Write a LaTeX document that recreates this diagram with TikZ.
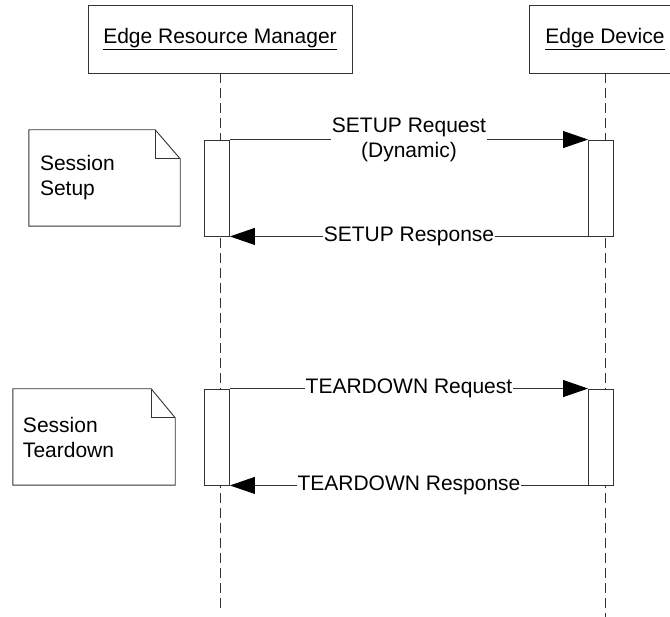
\documentclass[tikz,border=0pt]{standalone}
\usepackage{fontspec}
\setmainfont{Liberation Sans}
\usetikzlibrary{arrows.meta}
\tikzset{
  ln/.style={draw=black!80, line width=0.9pt},
  headbox/.style={ln, fill=white, minimum height=68pt, inner sep=0pt, font=\fontsize{21}{25}\selectfont},
  lifeline/.style={draw=black!80, line width=0.9pt, dash pattern=on 10pt off 5pt},
  actbox/.style={ln, fill=white, minimum width=25pt, inner sep=0pt},
  msg/.style={ln, -{Triangle[length=25pt,width=17pt,color=black]}},
  msglabel/.style={fill=white, inner sep=1pt, align=center, font=\fontsize{21}{25}\selectfont, text=black},
  notebox/.style={inner sep=0pt},
  notetext/.style={align=left, inner sep=0pt, font=\fontsize{21}{25}\selectfont}
}
\begin{document}
\begin{tikzpicture}[x=1pt,y=-1pt]
\clip (0,0) rectangle (670,617);
\fill[white] (0,0) rectangle (670,617);

% headers
\node[headbox, minimum width=264pt] (erm) at (220,39) {\underline{Edge Resource Manager}};
\node[headbox, minimum width=152pt] (ed) at (605,39) {\underline{Edge Device}};

% lifeline ends
\coordinate (ermEnd) at (220,612);
\coordinate (edEnd) at (605,617);
\draw[lifeline] (erm.south) -- (ermEnd);
\draw[lifeline] (ed.south) -- (edEnd);

% activation boxes
\node[actbox, minimum height=96pt] (a1) at (217,188) {};
\node[actbox, minimum height=96pt] (b1) at (601,188) {};
\node[actbox, minimum height=96pt] (a2) at (217,437) {};
\node[actbox, minimum height=96pt] (b2) at (601,437) {};

% messages
\draw[msg] (a1.north east) -- node[msglabel] {SETUP Request\\(Dynamic)} (b1.north west);
\draw[msg] (b1.south west) -- node[msglabel] {SETUP Response} (a1.south east);
\draw[msg] (a2.north east) -- node[msglabel] {TEARDOWN Request} (b2.north west);
\draw[msg] (b2.south west) -- node[msglabel] {TEARDOWN Response} (a2.south east);

% notes
\node[notebox, minimum width=151pt, minimum height=96pt] (n1) at (104.5,178) {};
\draw[ln, fill=white] (n1.south west) -- (n1.north west) -- ([xshift=-25pt]n1.north east)
  -- ([yshift=-29pt]n1.north east) -- (n1.south east) -- cycle;
\draw[ln] ([xshift=-25pt]n1.north east) |- ([yshift=-29pt]n1.north east);
\node[notetext, anchor=west] (t1) at ([xshift=11pt]n1.west) {Session\\Setup};

\node[notebox, minimum width=162pt, minimum height=96pt] (n2) at (94,437) {};
\draw[ln, fill=white] (n2.south west) -- (n2.north west) -- ([xshift=-24pt]n2.north east)
  -- ([yshift=-29pt]n2.north east) -- (n2.south east) -- cycle;
\draw[ln] ([xshift=-24pt]n2.north east) |- ([yshift=-29pt]n2.north east);
\node[notetext, anchor=west] (t2) at ([xshift=10pt]n2.west) {Session\\Teardown};
\end{tikzpicture}
\end{document}
